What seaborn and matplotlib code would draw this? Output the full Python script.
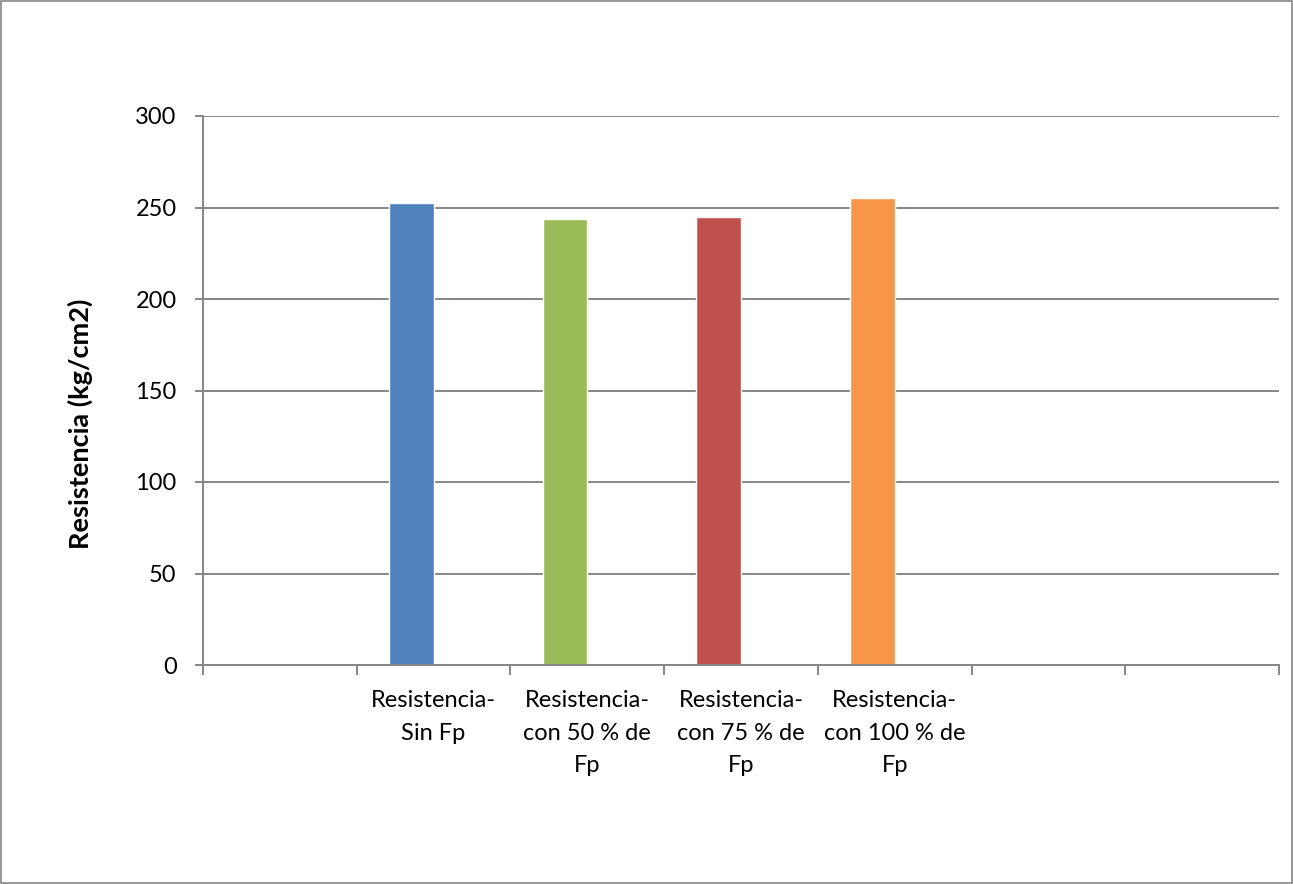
import matplotlib
matplotlib.use("Agg")
import matplotlib.pyplot as plt
from matplotlib.patches import Rectangle
import seaborn as sns
import numpy as np

categories = ["Resistencia-\nSin Fp", "Resistencia-\ncon 50 % de\nFp",
              "Resistencia-\ncon 75 % de\nFp", "Resistencia-\ncon 100 % de\nFp"]
values = [252.5, 243.7, 244.8, 255.2]
colors = ["#4F81BD", "#9BBB59", "#C0504D", "#F79646"]
order = [" "] + categories + ["  ", "   "]
y_ticks = [0, 50, 100, 150, 200, 250, 300]
y_label = "Resistencia (kg/cm2)"

sns.set_theme(style="white")
plt.rcParams['font.family'] = ['Lato', 'DejaVu Sans']

fig = plt.figure(figsize=(12.93, 8.84), dpi=100)
ax = fig.add_axes([203/1293, 1-665/884, (1279-203)/1293, (665-116)/884])

sns.barplot(x=categories, y=values, order=order, hue=categories,
            palette=colors, width=0.29, legend=False, ax=ax, saturation=1)
# Excel clustered layout: bar sits in left half of the category centre
for p in ax.patches:
    p.set_x(p.get_x() - p.get_width() / 2)

ax.set_ylim(0, 300)
ax.set_xlim(-0.5, 6.5)
ax.set_yticks(y_ticks)
ax.set_yticklabels([str(v) for v in y_ticks], fontsize=17, color="#000000")
ax.yaxis.grid(True, color="#868686", linewidth=1.4)
ax.set_axisbelow(True)

ax.set_xticks(np.arange(-0.5, 7.0, 1.0))
ax.set_xticklabels([])
ax.set_xticks(np.arange(0, 7), minor=True)
ax.set_xticklabels(order, minor=True, fontsize=17, linespacing=1.68, color="#000000")
ax.tick_params(axis="x", which="major", length=7, width=1.4, color="#868686", direction="out", bottom=True)
ax.tick_params(axis="x", which="minor", length=0, pad=18)
ax.tick_params(axis="y", length=6, width=1.4, color="#868686", direction="out", left=True, pad=13)

for s in ["top", "right"]:
    ax.spines[s].set_visible(False)
for s in ["left", "bottom"]:
    ax.spines[s].set_color("#868686")
    ax.spines[s].set_linewidth(1.4)

ax.set_xlabel("")
ax.set_ylabel(y_label, fontsize=19.5, fontweight="bold", color="#000000")
ax.yaxis.set_label_coords(-0.102, 0.439)

fig.patches.append(Rectangle((0.0008, 0.001), 0.9984, 0.998, transform=fig.transFigure,
                             fill=False, edgecolor="#868686", linewidth=1.2))

fig.savefig("out.png", dpi=100)
